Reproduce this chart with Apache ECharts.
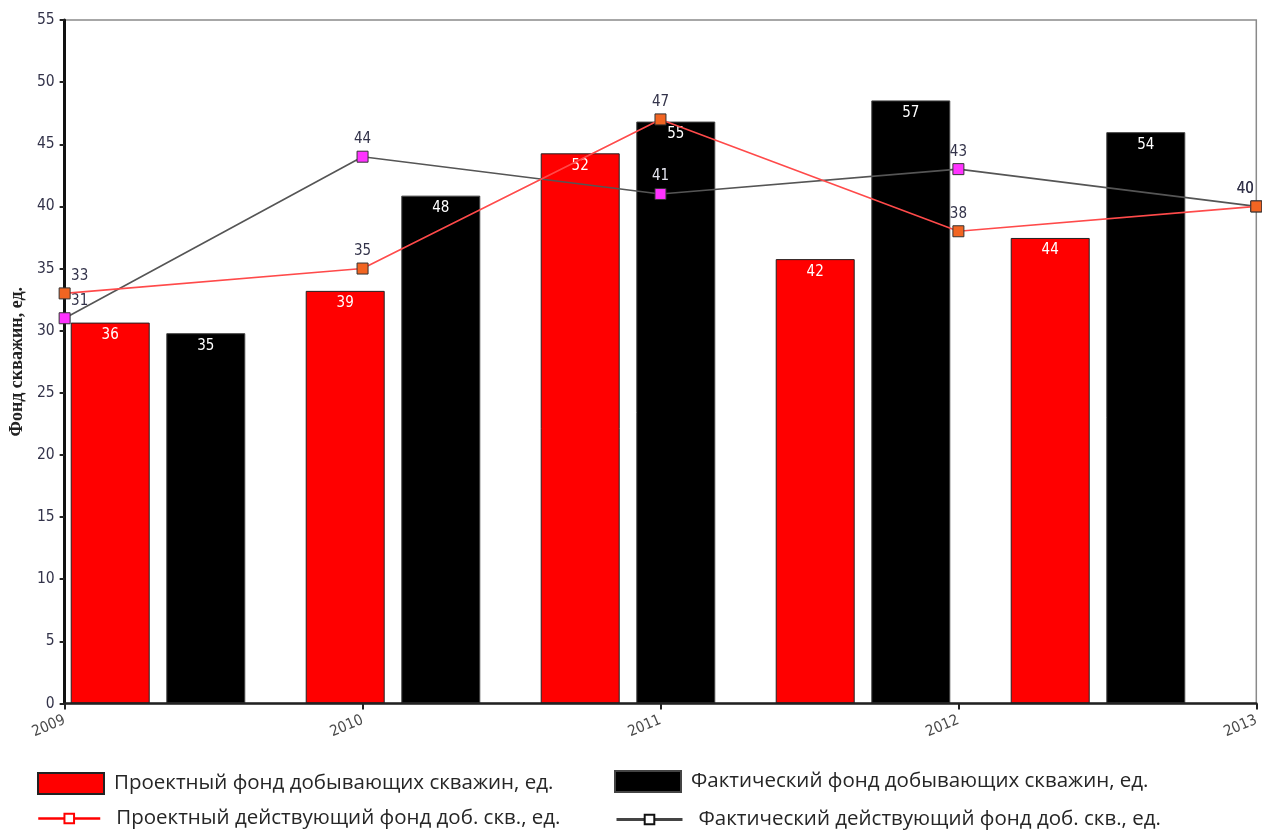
<!DOCTYPE html>
<html>
<head>
<meta charset="utf-8">
<script src="https://cdn.jsdelivr.net/npm/echarts@6/dist/echarts.min.js"></script>
<style>
  html, body { margin: 0; padding: 0; background: #ffffff; }
  #chart { width: 1262px; height: 830px; }
</style>
</head>
<body>
<div id="chart"></div>
<script>
// Years on the main axis and the values of each series
const years = [2009, 2010, 2011, 2012, 2013];
const barCategories = ['2009', '2010', '2011', '2012', '2013'];
const planProducing = [36, 39, 52, 42, 44];   // Проектный фонд добывающих скважин
const factProducing = [35, 48, 55, 57, 54];   // Фактический фонд добывающих скважин
const planActive = [33, 35, 47, 38, 40];      // Проектный действующий фонд
const factActive = [31, 44, 41, 43, 40];      // Фактический действующий фонд

const seriesNames = {
  planProducing: 'Проектный фонд добывающих скважин, ед.',
  factProducing: 'Фактический фонд добывающих скважин, ед.',
  planActive: 'Проектный действующий фонд доб. скв., ед.',
  factActive: 'Фактический действующий фонд доб. скв., ед.'
};
const yAxisTitle = 'Фонд скважин, ед.';

// Main value axis range; bars use their own hidden secondary scale
const Y_MIN = 0, Y_MAX = 55, Y_STEP = 5;
const BAR_AXIS_MAX = 64.6;

const numFont = 'DejaVu Sans Condensed';
const legendFont = 'Open Sans';

// Line points: shift the edge labels inwards so they stay inside the plot,
// and lighten a label that sits on top of a dark bar
function linePoints(values, lightLabelAt) {
  return values.map((v, i) => {
    const item = { value: [years[i], v] };
    if (i === 0) item.label = { offset: [15, 0] };
    if (i === values.length - 1) item.label = { offset: [-11, 0] };
    if (i === lightLabelAt) item.label = { color: '#e4e4ee' };
    return item;
  });
}

const chart = echarts.init(document.getElementById('chart'), null, { renderer: 'canvas' });

const pointLabel = {
  show: true, position: 'top', distance: 4,
  fontFamily: numFont, fontSize: 15, color: '#33334a'
};
const barLabel = {
  show: true, position: 'insideTop', distance: 5,
  fontFamily: numFont, fontSize: 15, color: '#ffffff'
};

function legendText(padLeft) {
  return { fontFamily: legendFont, fontSize: 20.5, color: '#262626', padding: [0, 0, 0, padLeft] };
}

chart.setOption({
  animation: false,
  backgroundColor: '#ffffff',
  grid: [
    { left: 63, right: 5, top: 20, bottom: 126.5, show: true, borderColor: '#8a8a8a', borderWidth: 1.5, backgroundColor: 'transparent' },
    { left: 40.5, width: 1175, top: 20, bottom: 126.5, show: false }
  ],
  xAxis: [
    {
      type: 'value', gridIndex: 0, min: years[0], max: years[years.length - 1], interval: 1,
      axisLine: { show: true, lineStyle: { color: '#222', width: 2.5 } },
      axisTick: { show: true, length: 6, lineStyle: { color: '#222', width: 2 } },
      splitLine: { show: false },
      axisLabel: {
        rotate: 23, margin: 16, fontFamily: numFont, fontSize: 15, color: '#4a4a4a',
        formatter: v => String(v)
      },
      z: 5
    },
    {
      type: 'category', gridIndex: 1, data: barCategories, show: false
    }
  ],
  yAxis: [
    {
      type: 'value', gridIndex: 0, min: Y_MIN, max: Y_MAX, interval: Y_STEP,
      name: yAxisTitle, nameLocation: 'middle', nameGap: 29,
      nameTextStyle: { fontFamily: 'Liberation Serif', fontWeight: 'bold', fontSize: 18, color: '#222' },
      axisLine: { show: true, lineStyle: { color: '#111', width: 3 } },
      axisTick: { show: true, length: 5, lineStyle: { color: '#222', width: 2 } },
      splitLine: { show: false },
      axisLabel: { margin: 10, fontFamily: numFont, fontSize: 15.5, color: '#33334a' },
      z: 5
    },
    {
      type: 'value', gridIndex: 1, min: 0, max: BAR_AXIS_MAX, show: false
    }
  ],
  legend: [
    {
      orient: 'horizontal', selectedMode: false, padding: 0,
      left: 37, top: 772, itemWidth: 66, itemHeight: 21, textStyle: legendText(5),
      data: [{ name: seriesNames.planProducing, icon: 'rect' }]
    },
    {
      orient: 'horizontal', selectedMode: false, padding: 0,
      left: 614, top: 770, itemWidth: 66, itemHeight: 21, textStyle: legendText(5),
      data: [{ name: seriesNames.factProducing, icon: 'rect' }]
    },
    {
      orient: 'horizontal', selectedMode: false, padding: 0,
      left: 37, top: 808, itemWidth: 62, itemHeight: 12, textStyle: legendText(11),
      data: [{
        name: seriesNames.planActive,
        itemStyle: { color: '#ffffff', borderColor: '#ff0000', borderWidth: 2 },
        lineStyle: { color: '#ff0000', width: 2.5 }
      }]
    },
    {
      orient: 'horizontal', selectedMode: false, padding: 0,
      left: 615, top: 809, itemWidth: 66, itemHeight: 12, textStyle: legendText(11),
      data: [{
        name: seriesNames.factActive,
        itemStyle: { color: '#ffffff', borderColor: '#111111', borderWidth: 2 },
        lineStyle: { color: '#444444', width: 3 }
      }]
    }
  ],
  series: [
    {
      name: seriesNames.planProducing, type: 'bar', xAxisIndex: 1, yAxisIndex: 1,
      data: planProducing, barWidth: 79, barGap: '21%',
      itemStyle: { color: '#ff0000', borderColor: '#222', borderWidth: 1 },
      label: barLabel, z: 2
    },
    {
      name: seriesNames.factProducing, type: 'bar', xAxisIndex: 1, yAxisIndex: 1,
      data: factProducing, barWidth: 79, barGap: '21%',
      itemStyle: { color: '#000000', borderColor: '#444', borderWidth: 1 },
      label: barLabel, z: 2
    },
    {
      name: seriesNames.factActive, type: 'line', xAxisIndex: 0, yAxisIndex: 0,
      data: linePoints(factActive, 2),
      symbol: 'rect', symbolSize: 11,
      lineStyle: { color: '#555555', width: 1.6 },
      itemStyle: { color: '#ff33ff', borderColor: '#333', borderWidth: 1 },
      label: pointLabel, z: 6
    },
    {
      name: seriesNames.planActive, type: 'line', xAxisIndex: 0, yAxisIndex: 0,
      data: linePoints(planActive, -1),
      symbol: 'rect', symbolSize: 11,
      lineStyle: { color: '#ff4a4a', width: 1.6 },
      itemStyle: { color: '#f26522', borderColor: '#333', borderWidth: 1 },
      label: pointLabel, z: 7
    }
  ]
});
</script>
</body>
</html>
